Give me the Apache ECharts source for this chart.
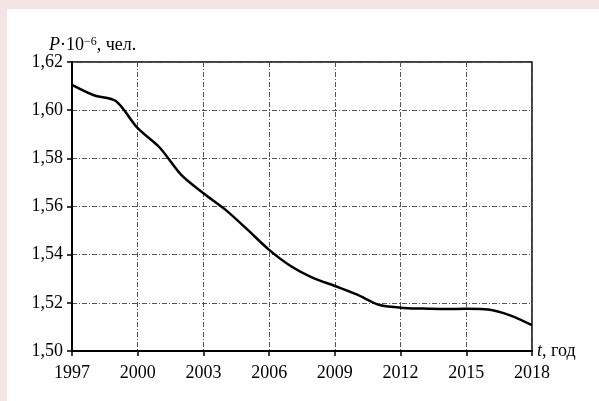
<!DOCTYPE html>
<html>
<head>
<meta charset="utf-8">
<script src="https://cdn.jsdelivr.net/npm/echarts@6/dist/echarts.min.js"></script>
<style>
  html, body { margin: 0; padding: 0; background: #f5e4e4; }
  #chart { position: absolute; left: 7px; top: 9px; width: 592px; height: 392px; background: #fff; }
</style>
</head>
<body>
<div id="chart"></div>
<script>
var years = ['1997','1998','1999','2000','2001','2002','2003','2004','2005','2006','2007',
             '2008','2009','2010','2011','2012','2013','2014','2015','2016','2017','2018'];
var population = [1.6105, 1.6062, 1.6038, 1.5925, 1.5845, 1.5730, 1.5655, 1.5587, 1.5505, 1.5420, 1.5352,
                  1.5304, 1.5270, 1.5235, 1.5192, 1.5180, 1.5176, 1.5174, 1.5175, 1.5172, 1.5148, 1.5107];
var yMin = 1.50, yMax = 1.62, yStep = 0.02;

var font = '"Liberation Serif", "Times New Roman", serif';
var gridLine = { color: '#555', width: 1, type: [5, 2, 1, 2] };

var myChart = echarts.init(document.getElementById('chart'));
var option = {
    backgroundColor: '#fff',
    animation: false,
    title: {
        left: 37, top: 22,
        text: '{i|P}{n|·10}{s|−6}{n|, чел.}',
        textStyle: {
            fontWeight: 'normal',
            rich: {
                i: { fontFamily: font, fontSize: 18, fontStyle: 'italic', fontWeight: 'normal', color: '#000' },
                n: { fontFamily: font, fontSize: 18, fontWeight: 'normal', color: '#000' },
                s: { fontFamily: font, fontSize: 12, fontWeight: 'normal', color: '#000', verticalAlign: 'top', padding: [0, 0, 7, 0] }
            }
        }
    },
    grid: {
        left: 65, right: 67, top: 53, bottom: 50,
        show: true, borderColor: '#000', borderWidth: 1.5
    },
    xAxis: {
        type: 'category',
        data: years,
        boundaryGap: false,
        name: '{i|t}{n|, год}',
        nameLocation: 'end',
        nameGap: 5,
        nameTextStyle: {
            rich: {
                i: { fontFamily: font, fontSize: 18, fontStyle: 'italic', color: '#000' },
                n: { fontFamily: font, fontSize: 18, color: '#000' }
            }
        },
        axisLine: { lineStyle: { color: '#000', width: 2 } },
        axisTick: { show: true, interval: 2, length: 5, lineStyle: { color: '#000', width: 1.5 } },
        axisLabel: { interval: 2, margin: 13, fontFamily: font, fontSize: 18, color: '#000' },
        splitLine: { show: true, interval: 2, lineStyle: gridLine }
    },
    yAxis: {
        type: 'value',
        min: yMin, max: yMax, interval: yStep,
        axisLine: { show: true, lineStyle: { color: '#000', width: 2 } },
        axisTick: { show: true, length: 5, lineStyle: { color: '#000', width: 1.5 } },
        axisLabel: {
            margin: 9, fontFamily: font, fontSize: 18, color: '#000',
            formatter: function (v) { return v.toFixed(2).replace('.', ','); }
        },
        splitLine: { show: true, lineStyle: gridLine }
    },
    series: [{
        type: 'line',
        data: population,
        smooth: 0.3,
        symbol: 'none',
        lineStyle: { color: '#000', width: 2.5 }
    }]
};
myChart.setOption(option);
</script>
</body>
</html>
